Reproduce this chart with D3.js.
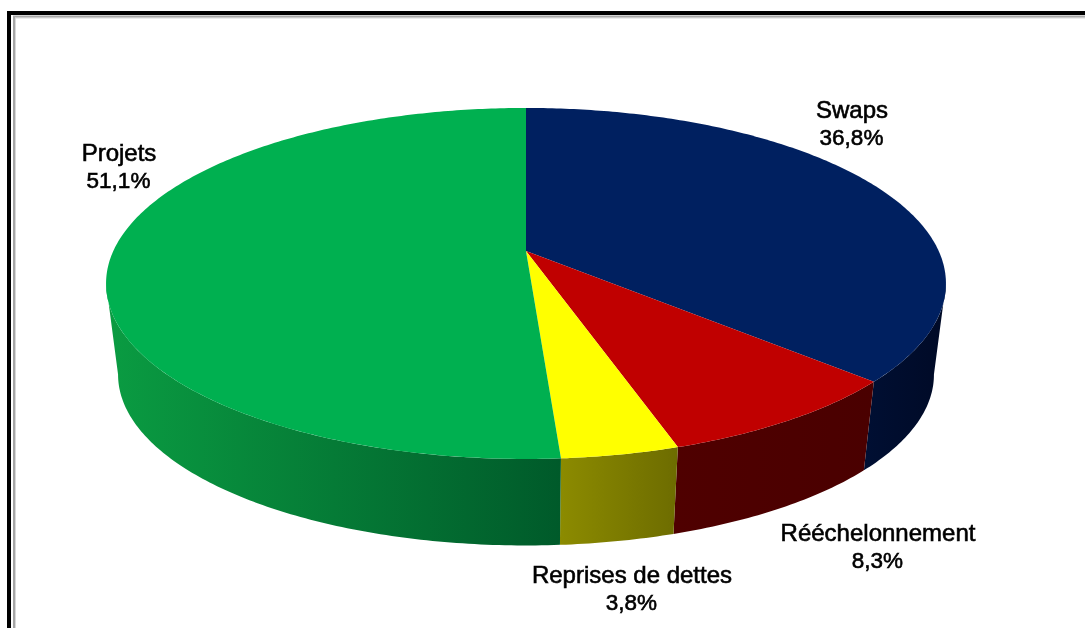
<!DOCTYPE html>
<html>
<head>
<meta charset="utf-8">
<script src="https://cdn.jsdelivr.net/npm/d3@7"></script>
<style>
  html, body { margin: 0; padding: 0; background: white; overflow: hidden; }
  svg { display: block; }
</style>
</head>
<body>
<script>
var categories = ["Swaps", "Rééchelonnement", "Reprises de dettes", "Projets"];
var shares = [36.8, 8.3, 3.8, 51.1];
var shareLabels = ["36,8%", "8,3%", "3,8%", "51,1%"];

var width = 1085, height = 628;

// top face of the disc, tilted towards the viewer (perspective factor k)
var cx = 526, k = 0.185;
var topFace = {y0: 251, rx: 412.7, ry: 169.5};
var bottomFace = {y0: 343, rx: 400.9, ry: 165};

var topColors = ["#002060", "#c00000", "#ffff00", "#00b050"];
var wallColors = [
  ["#000f33", "#000a26"],
  ["#4f0000", "#4a0000"],
  ["#8c8b00", "#6d6c00"],
  ["#0a9c42", "#005a2a"]
];

// label anchor, one per slice
var labelPos = [[852, 118], [878, 541], [632, 583], [119, 161]];

var svg = d3.select("body")
  .append("svg")
    .attr("width", width)
    .attr("height", height)
    .style("background-color", "white");

// frame: only top and left are in view
function frame(x, y, w, color) {
  svg.append("path")
    .attr("d", "M" + x + "," + height + "V" + y + "H" + width)
    .attr("fill", "none")
    .attr("stroke", color)
    .attr("stroke-width", w);
}
frame(15.5, 18, 1, "#d8d8d8");
frame(14, 16.5, 2, "#a6a6a6");
frame(9, 13, 4, "#000000");

// angle on the pie -> point on the screen
function project(face, a) {
  var u = Math.sin(a), v = -Math.cos(a), w = 1 - k * v;
  return [cx + face.rx * u / w, face.y0 + face.ry * v / w];
}

function arcPoints(face, a0, a1) {
  var n = Math.max(2, Math.ceil((a1 - a0) * 80));
  return d3.range(n + 1).map(function(i) {
    return project(face, a0 + (a1 - a0) * i / n);
  });
}

var slices = d3.pie().sort(null).value(function(d) { return d; })(shares);
var line = d3.line();

// the wall only shows between the two silhouette tangents
var wallStart = Math.PI - Math.acos(k);
var wallEnd = Math.PI + Math.acos(k);

var defs = svg.append("defs");
var walls = svg.append("g");
var tops = svg.append("g");

// the reference is a soft upscaled image
defs.append("filter")
  .attr("id", "soft")
  .append("feGaussianBlur")
  .attr("stdDeviation", 0.45);

slices.forEach(function(s, i) {
  var a0 = Math.max(s.startAngle, wallStart);
  var a1 = Math.min(s.endAngle, wallEnd);
  if (a1 > a0) {
    var upper = arcPoints(topFace, a0, a1);
    var lower = arcPoints(bottomFace, a0, a1).reverse();
    var xs = upper.concat(lower).map(function(p) { return p[0]; });
    var grad = defs.append("linearGradient")
      .attr("id", "wall" + i)
      .attr("gradientUnits", "userSpaceOnUse")
      .attr("x1", d3.min(xs)).attr("x2", d3.max(xs))
      .attr("y1", 0).attr("y2", 0);
    grad.append("stop").attr("offset", 0).attr("stop-color", wallColors[i][0]);
    grad.append("stop").attr("offset", 1).attr("stop-color", wallColors[i][1]);
    walls.append("path")
      .attr("d", line(upper.concat(lower)) + "Z")
      .attr("fill", "url(#wall" + i + ")");
  }
  var pts = [[cx, topFace.y0]].concat(arcPoints(topFace, s.startAngle, s.endAngle));
  tops.append("path")
    .attr("d", line(pts) + "Z")
    .attr("fill", topColors[i]);
});

// labels
var labels = svg.append("g")
  .attr("text-anchor", "middle")
  .attr("filter", "url(#soft)")
  .style("font-family", "'Liberation Sans', Arial, sans-serif")
  .attr("fill", "#000")
  .attr("stroke", "#000")
  .attr("stroke-width", 0.6);

categories.forEach(function(c, i) {
  labels.append("text")
    .attr("x", labelPos[i][0])
    .attr("y", labelPos[i][1])
    .style("font-size", "24px")
    .text(c);
  labels.append("text")
    .attr("x", labelPos[i][0] - 0.5)
    .attr("y", labelPos[i][1] + 27)
    .style("font-size", "22.5px")
    .text(shareLabels[i]);
});
</script>
</body>
</html>
